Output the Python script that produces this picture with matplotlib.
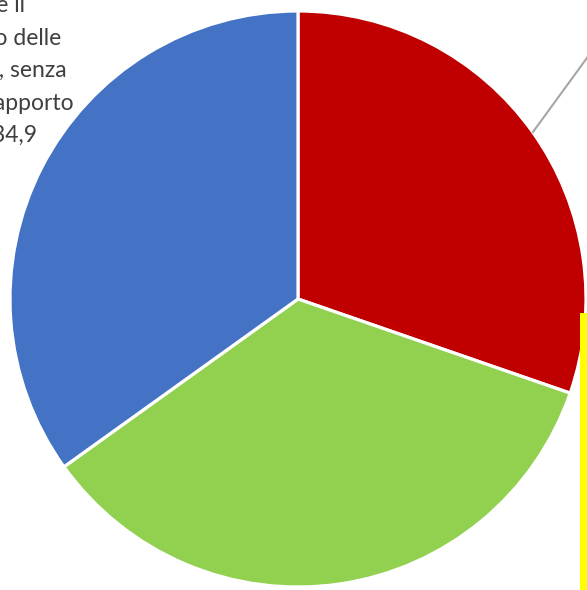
import matplotlib; matplotlib.use("agg")
import matplotlib.pyplot as plt
from matplotlib.patches import Rectangle

# slice shares (%), clockwise from 12 o'clock
shares = [30.3, 34.8, 34.9]
colors = ["#C00000", "#92D050", "#4472C4"]
# label of the blue slice, cut off by the left edge of the picture
label_lines = ["Ritiene che il", "ruolo delle", "istituzioni, senza", "un rapporto", "diretto  34,9"]
label_right = [25, 61, 67, 74, 37]       # right end of each line, px
label_base = [12, 45, 77, 110, 142]      # baseline of each line, px from top

W, H = 587, 590
fig = plt.figure(figsize=(W / 100, H / 100), dpi=100)
ax = fig.add_axes([0, 0, 1, 1])

ax.pie(shares, colors=colors, startangle=90, counterclock=False,
       center=(298, H - 299), radius=288, frame=True,
       wedgeprops=dict(edgecolor="white", linewidth=2.3))
ax.set_xlim(0, W); ax.set_ylim(0, H); ax.axis("off")
ax.set_aspect("equal")

for txt, xr, yb in zip(label_lines, label_right, label_base):
    ax.text(xr, H - yb, txt, ha="right", va="baseline", fontsize=16.5,
            color="#3F3F3F", family=["Lato", "DejaVu Sans"])

# leader line towards the (off-picture) red label
ax.plot([533, 600], [H - 132, H - 40], color="#A6A6A6", lw=1.5)
# yellow label box peeking in at the right edge
ax.add_patch(Rectangle((580, 0), 20, H - 313, facecolor="#FFFF00", edgecolor="none"))

fig.savefig("out.png", dpi=100)
